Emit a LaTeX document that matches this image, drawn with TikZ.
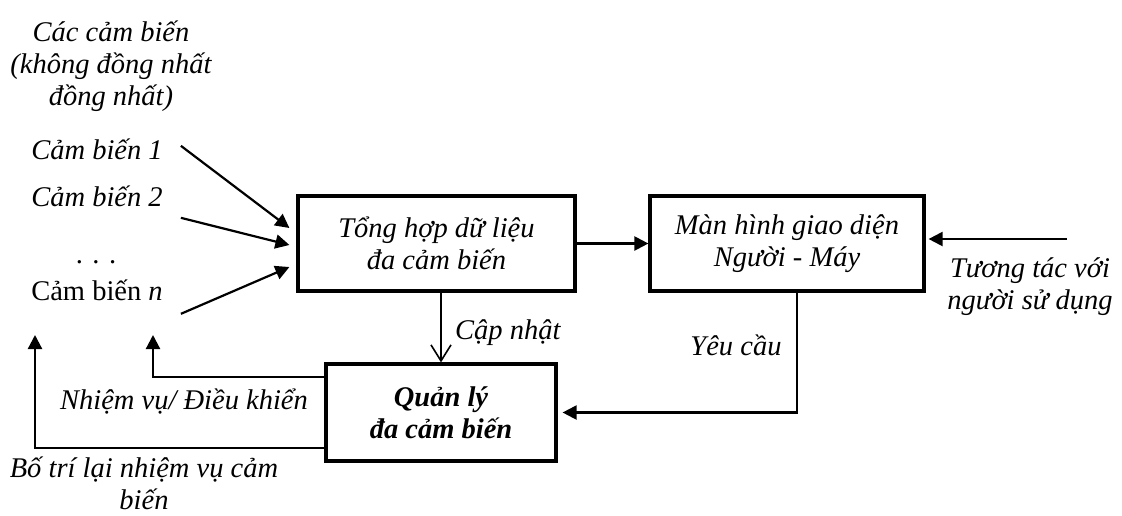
\documentclass[tikz,border=0pt]{standalone}
\usepackage{fontspec}
\setmainfont{Liberation Serif}
\usetikzlibrary{arrows.meta}
\usetikzlibrary{calc}
\tikzset{
	boxstyle/.style={draw=black, line width=3.2pt, align=center, font=\itshape},
	textstyle/.style={align=center, font=\itshape, inner sep=0pt},
	linkstyle/.style={line width=2.2pt, -{Triangle[length=14pt, width=14pt]}},
	openstyle/.style={line width=1.6pt, -{Straight Barb[length=16pt, width=20pt]}}
}

\begin{document}
\fontsize{28.5}{32}\selectfont
\begin{tikzpicture}[x=1pt, y=-1pt]
\useasboundingbox (0, 0) rectangle (1122, 515);

% sensors on the left
\node[textstyle] (group) at (111, 66) {Các cảm biến\\(không đồng nhất\\đồng nhất)};
\node[textstyle, anchor=base] (s1) at (97, 159) {Cảm biến 1};
\node[textstyle, anchor=base] (s2) at (97, 206) {Cảm biến 2};
\node[textstyle, anchor=base, font=\upshape] (sdots) at (96, 263) {. . .};
\node[textstyle, anchor=base, font=\upshape] (sn) at (97, 300) {Cảm biến \textit{n}};

% the three blocks
\node[boxstyle, minimum width=277, minimum height=95] (fuse) at (436.5, 243.5) {Tổng hợp dữ liệu\\đa cảm biến};
\node[boxstyle, minimum width=274, minimum height=95] (hmi) at (787, 243.5) {Màn hình giao diện\\Người - Máy};
\node[boxstyle, font=\bfseries\itshape, minimum width=230, minimum height=97] (mgr) at (441, 412.5) {Quản lý\\đa cảm biến};

\node[textstyle, anchor=west] (upd) at (455, 333) {Cập nhật};
\node[textstyle] (req) at (736, 345) {Yêu cầu};
\node[textstyle] (user) at (1030, 287) {Tương tác với\\người sử dụng};
\node[textstyle] (task) at (184, 402) {Nhiệm vụ/ Điều khiển};
\node[textstyle] (realloc) at (144, 483) {Bố trí lại nhiệm vụ cảm\\biến};

\coordinate (usr) at (1067, 239);
\coordinate (fbn) at (153, 335);
\coordinate (fb1) at (35, 335);

\draw[linkstyle] ($(s1.east)+(18,-3)$) -- ($(fuse.west)+(-7,-15.5)$);
\draw[linkstyle] ($(s2.east)+(18,22)$) -- ($(fuse.west)+(-7,1.5)$);
\draw[linkstyle] ($(sn.east)+(18,24)$) -- ($(fuse.west)+(-7,23.5)$);

\draw[linkstyle] (fuse.east) -- (hmi.west);
\draw[linkstyle, shorten >=3pt] (usr) -- (hmi.east |- usr);
\draw[openstyle] (fuse.south -| mgr.north) -- (mgr.north);
\draw[linkstyle, shorten >=5pt] ([xshift=10pt]hmi.south) |- (mgr.east);

\draw[linkstyle] (mgr.west |- 0,377) -| (fbn);
\draw[linkstyle] (mgr.west |- 0,448) -| (fb1);
\end{tikzpicture}
\end{document}
